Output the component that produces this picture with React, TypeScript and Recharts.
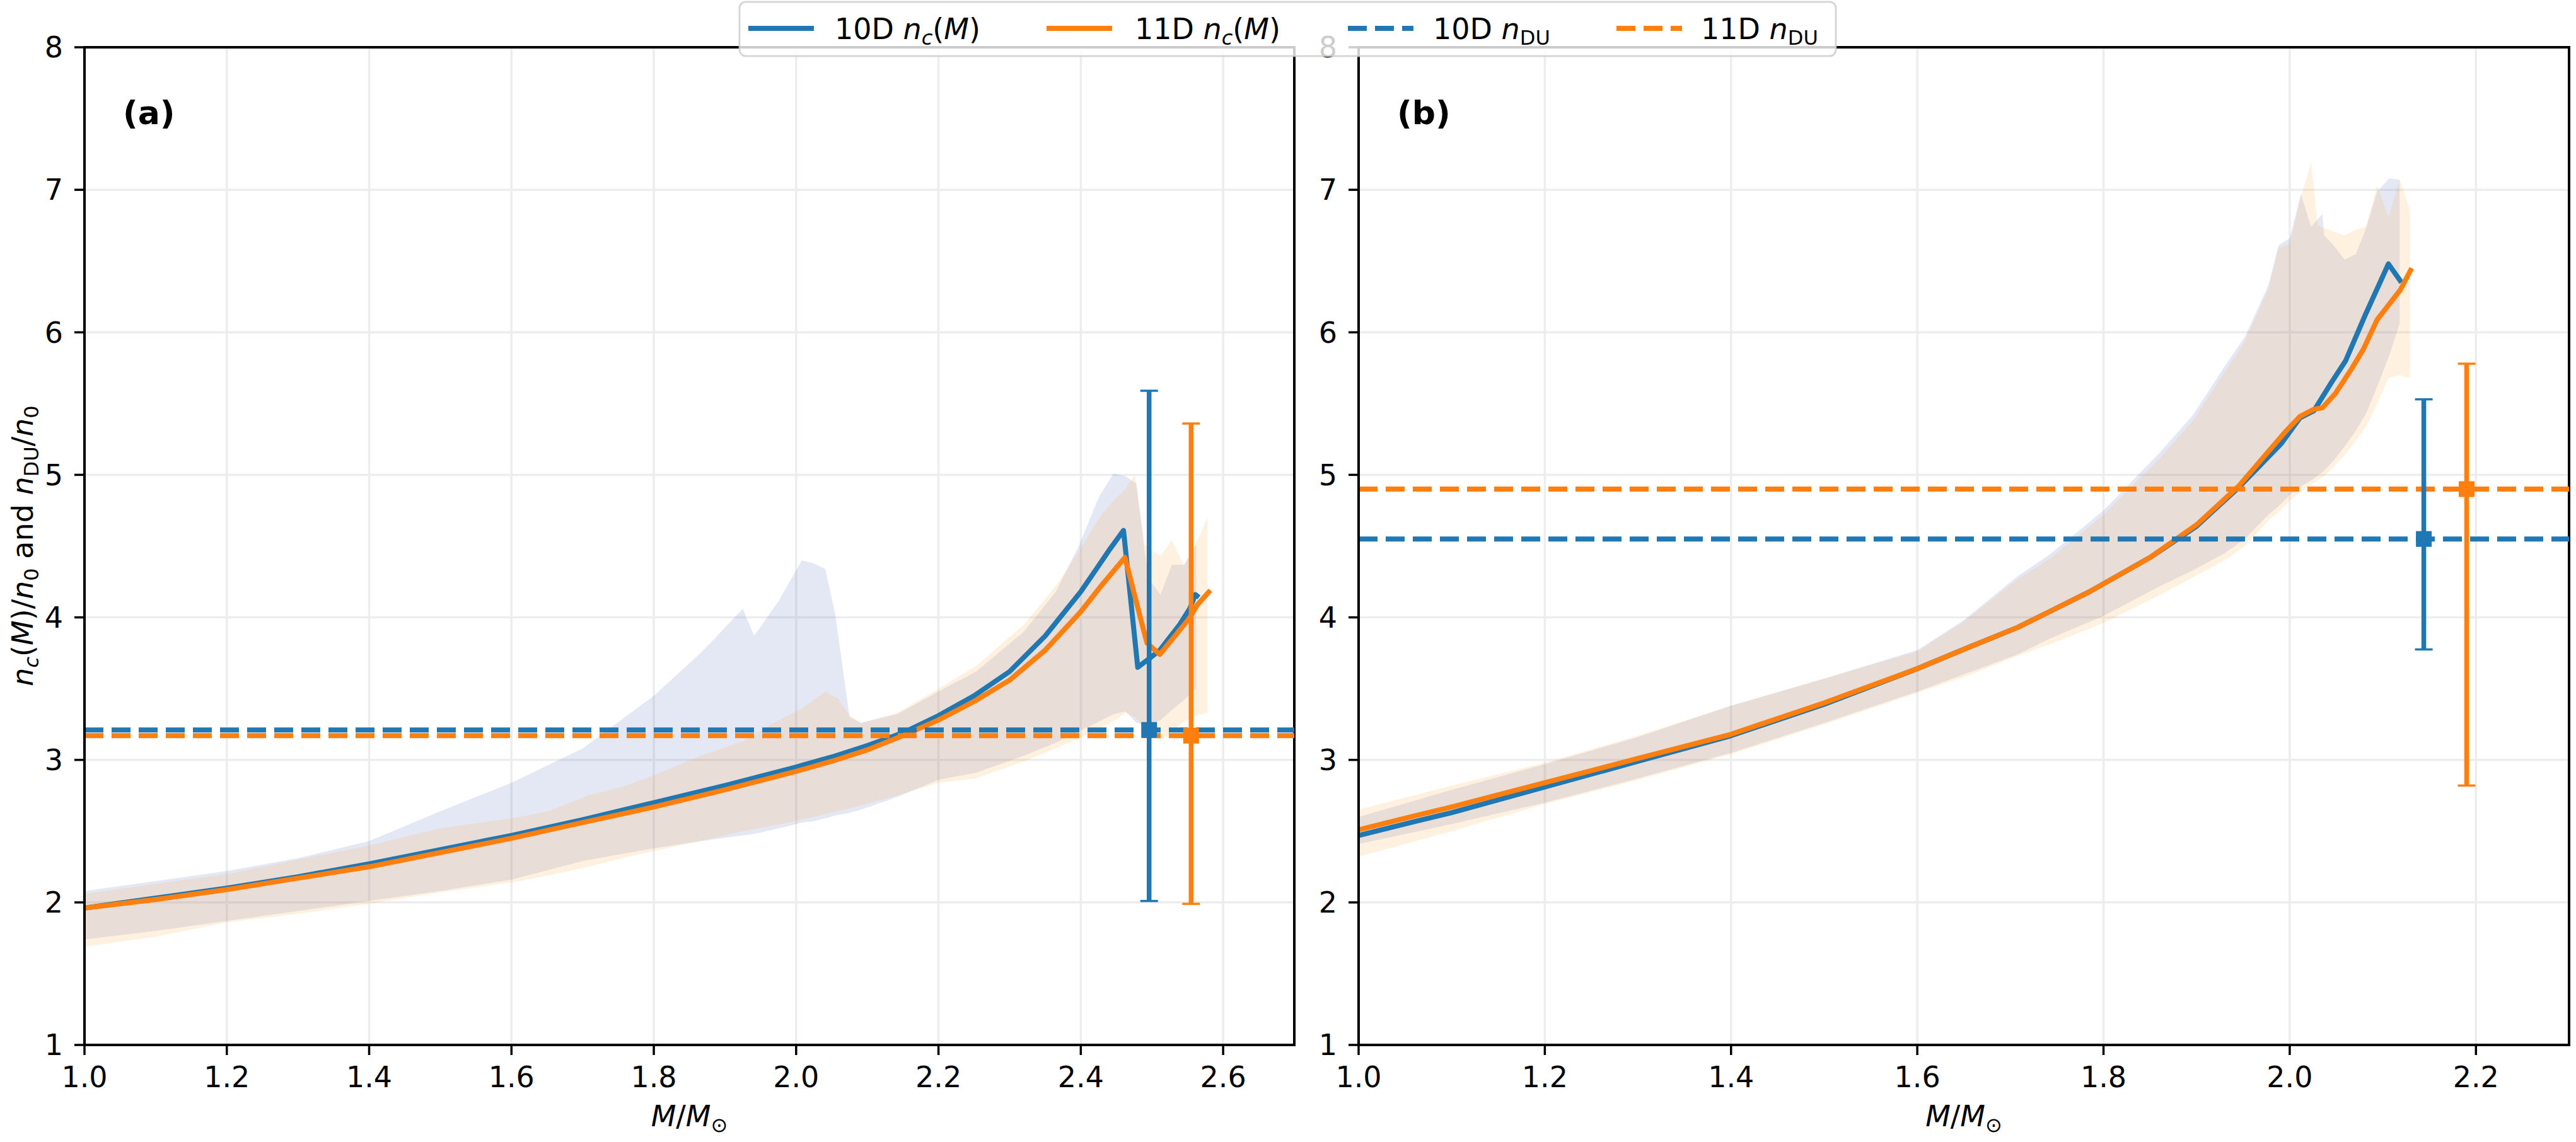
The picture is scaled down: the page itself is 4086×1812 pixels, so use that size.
import React from "react";
import {
  ComposedChart,
  Area,
  Line,
  Scatter,
  ErrorBar,
  XAxis,
  YAxis,
  CartesianGrid,
  ReferenceLine,
  ReferenceArea,
} from "recharts";

const BLUE = "#1f77b4";
const ORANGE = "#ff7f0e";
const BLUE_BAND = "#3e5bb8";
const ORANGE_BAND = "#ffa032";
const FONT = "DejaVu Sans";
const FS = 46;
const LW = 8;
const DASH = "30 13";

const Y_TICKS = [1, 2, 3, 4, 5, 6, 7, 8];
const A_X_TICKS = [1.0, 1.2, 1.4, 1.6, 1.8, 2.0, 2.2, 2.4, 2.6];
const B_X_TICKS = [1.0, 1.2, 1.4, 1.6, 1.8, 2.0, 2.2];

// panel (a): central n_c(M) curves
const A_10D_M = [1.0, 1.1, 1.2, 1.3, 1.4, 1.5, 1.6, 1.7, 1.8, 1.9, 2.0, 2.05, 2.1, 2.15, 2.2, 2.25, 2.3, 2.35, 2.4, 2.426, 2.441, 2.46, 2.48, 2.496, 2.511, 2.539, 2.553, 2.561, 2.566];
const A_10D_NC = [1.96, 2.03, 2.1, 2.18, 2.27, 2.37, 2.47, 2.58, 2.7, 2.82, 2.95, 3.02, 3.1, 3.19, 3.31, 3.45, 3.62, 3.87, 4.18, 4.37, 4.48, 4.61, 3.65, 3.71, 3.77, 3.95, 4.06, 4.16, 4.14];
const A_11D_M = [1.0, 1.1, 1.2, 1.3, 1.4, 1.5, 1.6, 1.7, 1.8, 1.9, 2.0, 2.05, 2.1, 2.15, 2.2, 2.25, 2.3, 2.35, 2.4, 2.43, 2.462, 2.481, 2.493, 2.511, 2.552, 2.564, 2.582];
const A_11D_NC = [1.96, 2.02, 2.09, 2.17, 2.25, 2.35, 2.45, 2.56, 2.67, 2.79, 2.92, 2.99, 3.07, 3.17, 3.28, 3.41, 3.56, 3.77, 4.04, 4.23, 4.42, 4.05, 3.82, 3.74, 3.99, 4.09, 4.19];

// panel (a): uncertainty bands
const A_10D_BAND_M = [1.0, 1.1, 1.2, 1.3, 1.4, 1.5, 1.6, 1.7, 1.8, 1.866, 1.925, 1.941, 1.976, 2.008, 2.024, 2.041, 2.055, 2.075, 2.091, 2.142, 2.2, 2.253, 2.32, 2.365, 2.397, 2.426, 2.446, 2.463, 2.478, 2.49, 2.497, 2.512, 2.528, 2.545, 2.562];
const A_10D_BAND_LO = [1.74, 1.8, 1.87, 1.94, 2.01, 2.08, 2.16, 2.29, 2.38, 2.43, 2.47, 2.48, 2.52, 2.56, 2.57, 2.59, 2.61, 2.63, 2.65, 2.74, 2.86, 2.91, 3.03, 3.12, 3.2, 3.27, 3.32, 3.34, 3.26, 3.25, 3.25, 3.28, 3.35, 3.42, 3.5];
const A_10D_BAND_HI = [2.08, 2.15, 2.22, 2.31, 2.43, 2.64, 2.84, 3.08, 3.45, 3.75, 4.06, 3.87, 4.12, 4.4, 4.38, 4.34, 4.02, 3.3, 3.26, 3.32, 3.48, 3.62, 3.9, 4.18, 4.5, 4.85, 5.01, 4.99, 4.94, 4.45, 4.26, 4.16, 4.37, 4.37, 4.51];
const A_11D_BAND_M = [1.0, 1.1, 1.2, 1.3, 1.4, 1.5, 1.6, 1.652, 1.708, 1.755, 1.8, 1.866, 1.925, 1.968, 2.008, 2.041, 2.059, 2.075, 2.091, 2.142, 2.2, 2.253, 2.32, 2.365, 2.397, 2.426, 2.446, 2.463, 2.476, 2.49, 2.512, 2.528, 2.545, 2.562, 2.578];
const A_11D_BAND_LO = [1.69, 1.76, 1.86, 1.92, 1.99, 2.07, 2.14, 2.19, 2.25, 2.31, 2.36, 2.43, 2.5, 2.54, 2.58, 2.62, 2.64, 2.66, 2.68, 2.75, 2.84, 2.87, 2.99, 3.08, 3.15, 3.22, 3.27, 3.33, 3.3, 3.23, 3.13, 3.2, 3.27, 3.31, 3.33];
const A_11D_BAND_HI = [2.06, 2.13, 2.2, 2.3, 2.4, 2.52, 2.59, 2.64, 2.75, 2.81, 2.89, 3.03, 3.13, 3.26, 3.36, 3.48, 3.43, 3.31, 3.26, 3.33, 3.5, 3.66, 3.95, 4.22, 4.46, 4.7, 4.82, 4.9, 5.0, 4.51, 4.43, 4.54, 4.36, 4.52, 4.7];

// panel (a): n_DU with error bars (10D, 11D)
const A_NDU = [3.21, 3.17];
const A_NDU_M = [2.496, 2.555];
const A_NDU_LO = [2.01, 1.99];
const A_NDU_HI = [5.59, 5.36];

// panel (b): central curves
const B_10D_M = [1.0, 1.062, 1.1, 1.2, 1.3, 1.4, 1.5, 1.6, 1.659, 1.708, 1.742, 1.785, 1.85, 1.9, 1.945, 1.991, 2.011, 2.026, 2.045, 2.06, 2.081, 2.106, 2.12];
const B_10D_NC = [2.47, 2.57, 2.63, 2.81, 2.99, 3.17, 3.39, 3.64, 3.8, 3.93, 4.04, 4.18, 4.42, 4.64, 4.91, 5.22, 5.4, 5.45, 5.65, 5.8, 6.12, 6.48, 6.35];
const B_11D_M = [1.0, 1.062, 1.1, 1.2, 1.3, 1.4, 1.5, 1.6, 1.659, 1.708, 1.742, 1.785, 1.85, 1.9, 1.945, 1.995, 2.011, 2.026, 2.035, 2.049, 2.067, 2.079, 2.094, 2.106, 2.119, 2.131];
const B_11D_NC = [2.51, 2.61, 2.67, 2.84, 3.01, 3.18, 3.4, 3.64, 3.8, 3.93, 4.04, 4.18, 4.42, 4.65, 4.92, 5.3, 5.41, 5.46, 5.47, 5.57, 5.75, 5.88, 6.09, 6.19, 6.3, 6.45];

// panel (b): bands
const B_10D_BAND_M = [1.0, 1.1, 1.2, 1.3, 1.4, 1.5, 1.6, 1.65, 1.708, 1.742, 1.8, 1.861, 1.896, 1.93, 1.952, 1.977, 1.988, 2.0, 2.012, 2.023, 2.035, 2.037, 2.047, 2.059, 2.071, 2.082, 2.094, 2.107, 2.118];
const B_10D_BAND_LO = [2.41, 2.55, 2.7, 2.87, 3.05, 3.26, 3.48, 3.6, 3.74, 3.85, 4.01, 4.22, 4.33, 4.45, 4.55, 4.72, 4.78, 4.86, 4.92, 4.96, 5.02, 5.03, 5.1, 5.2, 5.31, 5.43, 5.62, 5.84, 6.06];
const B_10D_BAND_HI = [2.6, 2.79, 2.97, 3.16, 3.38, 3.57, 3.77, 3.98, 4.29, 4.44, 4.75, 5.16, 5.42, 5.76, 5.97, 6.33, 6.61, 6.66, 6.97, 6.74, 6.83, 6.68, 6.61, 6.51, 6.55, 6.73, 6.99, 7.08, 7.07];
const B_11D_BAND_M = [1.0, 1.1, 1.2, 1.3, 1.4, 1.5, 1.6, 1.65, 1.708, 1.742, 1.8, 1.861, 1.896, 1.93, 1.952, 1.977, 1.988, 2.0, 2.012, 2.023, 2.03, 2.042, 2.059, 2.071, 2.082, 2.094, 2.106, 2.118, 2.129];
const B_11D_BAND_LO = [2.32, 2.5, 2.69, 2.86, 3.04, 3.25, 3.47, 3.58, 3.73, 3.81, 3.96, 4.16, 4.28, 4.4, 4.5, 4.68, 4.74, 4.82, 4.88, 4.93, 4.96, 5.02, 5.14, 5.24, 5.34, 5.5, 5.68, 5.7, 5.68];
const B_11D_BAND_HI = [2.65, 2.82, 2.98, 3.17, 3.38, 3.57, 3.76, 3.97, 4.27, 4.41, 4.72, 5.12, 5.38, 5.72, 5.94, 6.3, 6.59, 6.62, 6.95, 7.19, 6.75, 6.72, 6.68, 6.72, 6.74, 7.03, 6.81, 7.07, 6.86];

// panel (b): n_DU with error bars
const B_NDU = [4.55, 4.9];
const B_NDU_M = [2.144, 2.19];
const B_NDU_LO = [3.775, 2.82];
const B_NDU_HI = [5.53, 5.78];

type Pt = { m: number; v: number };
type Band = { m: number; lo: number; hi: number };
type ErrPt = { m: number; v: number; err: [number, number] };

const zipLine = (m: number[], v: number[]): Pt[] => m.map((x, i) => ({ m: x, v: v[i] }));
const zipBand = (m: number[], lo: number[], hi: number[]): Band[] =>
  m.map((x, i) => ({ m: x, lo: lo[i], hi: hi[i] }));
const errPoint = (m: number[], v: number[], lo: number[], hi: number[], i: number): ErrPt[] => [
  { m: m[i], v: v[i], err: [v[i] - lo[i], hi[i] - v[i]] },
];

const square = (color: string) => (p: any) =>
  <rect x={p.cx - 12.5} y={p.cy - 12.5} width={25} height={25} fill={color} />;

function XLabel(props: any) {
  const vb = props.viewBox || {};
  const cx = vb.x + vb.width / 2;
  const y = vb.y + 129;
  return (
    <text x={cx} y={y} textAnchor="middle" fontFamily={FONT} fontSize={FS} fill="#000">
      <tspan fontStyle="italic">M</tspan>
      <tspan>/</tspan>
      <tspan fontStyle="italic">M</tspan>
      <tspan fontSize={32} dy={9}>{"\u2299"}</tspan>
    </text>
  );
}

function YLabel() {
  const cx = 52;
  const cy = 866;
  const sub = { fontSize: 32 };
  return (
    <text x={cx} y={cy} textAnchor="middle" transform={`rotate(-90, ${cx}, ${cy})`} fontFamily={FONT} fontSize={FS} fill="#000">
      <tspan fontStyle="italic">n</tspan>
      <tspan fontStyle="italic" {...sub} dy={9}>c</tspan>
      <tspan dy={-9}>(</tspan>
      <tspan fontStyle="italic">M</tspan>
      <tspan>)/</tspan>
      <tspan fontStyle="italic">n</tspan>
      <tspan {...sub} dy={9}>0</tspan>
      <tspan dy={-9}> and </tspan>
      <tspan fontStyle="italic">n</tspan>
      <tspan {...sub} dy={9}>DU</tspan>
      <tspan dy={-9}>/</tspan>
      <tspan fontStyle="italic">n</tspan>
      <tspan {...sub} dy={9}>0</tspan>
    </text>
  );
}

function Tag(props: any) {
  const vb = props.viewBox || {};
  return (
    <text x={vb.x + 61} y={vb.y + 122} fontFamily={FONT} fontSize={52} fontWeight="bold" fill="#000">
      {props.tag}
    </text>
  );
}

type PanelProps = {
  left: number;
  width: number;
  yWidth: number;
  mLeft: number;
  mRight: number;
  xMax: number;
  xTicks: number[];
  tag: string;
  withYLabel: boolean;
  band10: Band[];
  band11: Band[];
  line10: Pt[];
  line11: Pt[];
  ndu10: number;
  ndu11: number;
  bar10: ErrPt[];
  bar11: ErrPt[];
};

const tickStyle = { fontSize: FS, fontFamily: FONT, fill: "#000" };

function Panel(p: PanelProps) {
  return (
    <div style={{ position: "absolute", left: p.left, top: 0 }}>
      <ComposedChart
        width={p.width}
        height={1812}
        margin={{ top: 75, right: p.mRight, bottom: 54, left: p.mLeft }}
      >
        <CartesianGrid stroke="#ededed" strokeWidth={3.5} />
        <XAxis
          dataKey="m"
          type="number"
          domain={[1, p.xMax]}
          ticks={p.xTicks}
          interval={0}
          allowDataOverflow
          height={100}
          tickFormatter={(v: number) => v.toFixed(1)}
          tick={tickStyle}
          tickSize={16}
          tickMargin={18}
          tickLine={{ stroke: "#000", strokeWidth: 3.5 }}
          axisLine={{ stroke: "#000", strokeWidth: 4 }}
          label={<XLabel />}
        />
        <YAxis
          type="number"
          domain={[1, 8]}
          ticks={Y_TICKS}
          interval={0}
          allowDataOverflow
          width={p.yWidth}
          tick={tickStyle}
          tickSize={16}
          tickMargin={18}
          tickLine={{ stroke: "#000", strokeWidth: 3.5 }}
          axisLine={{ stroke: "#000", strokeWidth: 4 }}
          label={p.withYLabel ? <YLabel /> : undefined}
        />
        <Area
          data={p.band10}
          dataKey={(d: Band) => [d.lo, d.hi]}
          type="linear"
          stroke="none"
          fill={BLUE_BAND}
          fillOpacity={0.14}
          activeDot={false}
          isAnimationActive={false}
        />
        <Area
          data={p.band11}
          dataKey={(d: Band) => [d.lo, d.hi]}
          type="linear"
          stroke="none"
          fill={ORANGE_BAND}
          fillOpacity={0.15}
          activeDot={false}
          isAnimationActive={false}
        />
        <Line
          data={p.line10}
          dataKey="v"
          type="linear"
          stroke={BLUE}
          strokeWidth={LW}
          strokeLinejoin="round"
          dot={false}
          activeDot={false}
          isAnimationActive={false}
        />
        <Line
          data={p.line11}
          dataKey="v"
          type="linear"
          stroke={ORANGE}
          strokeWidth={LW}
          strokeLinejoin="round"
          dot={false}
          activeDot={false}
          isAnimationActive={false}
        />
        <ReferenceLine y={p.ndu10} stroke={BLUE} strokeWidth={LW} strokeDasharray={DASH} />
        <ReferenceLine y={p.ndu11} stroke={ORANGE} strokeWidth={LW} strokeDasharray={DASH} />
        <Scatter data={p.bar10} dataKey="v" shape={square(BLUE)} isAnimationActive={false}>
          <ErrorBar dataKey="err" direction="y" width={0} stroke={BLUE} strokeWidth={7.5} isAnimationActive={false} />
          <ErrorBar dataKey="err" direction="y" width={14} stroke={BLUE} strokeWidth={3.5} isAnimationActive={false} />
        </Scatter>
        <Scatter data={p.bar11} dataKey="v" shape={square(ORANGE)} isAnimationActive={false}>
          <ErrorBar dataKey="err" direction="y" width={0} stroke={ORANGE} strokeWidth={7.5} isAnimationActive={false} />
          <ErrorBar dataKey="err" direction="y" width={14} stroke={ORANGE} strokeWidth={3.5} isAnimationActive={false} />
        </Scatter>
        <ReferenceArea
          x1={1}
          x2={p.xMax}
          y1={1}
          y2={8}
          fill="none"
          stroke="#000"
          strokeWidth={4}
          ifOverflow="visible"
          label={<Tag tag={p.tag} />}
        />
      </ComposedChart>
    </div>
  );
}

function LegendOverlay() {
  const sub = { fontSize: 32 };
  const items = [
    { x: 1187, tx: 1324, color: BLUE, dash: undefined as string | undefined, label: "10D", nc: true },
    { x: 1660, tx: 1800, color: ORANGE, dash: undefined as string | undefined, label: "11D", nc: true },
    { x: 2138, tx: 2273, color: BLUE, dash: DASH, label: "10D", nc: false },
    { x: 2564, tx: 2698, color: ORANGE, dash: DASH, label: "11D", nc: false },
  ];
  return (
    <svg
      width={4086}
      height={1812}
      style={{ position: "absolute", left: 0, top: 0, pointerEvents: "none" }}
    >
      <rect x={1173} y={3} width={1739} height={86} rx={10} ry={10} fill="#fff" fillOpacity={0.8} stroke="#cccccc" strokeOpacity={0.8} strokeWidth={3} />
      {items.map((it, i) => (
        <g key={i}>
          <line x1={it.x} x2={it.x + 104} y1={45} y2={45} stroke={it.color} strokeWidth={LW} strokeDasharray={it.dash} />
          <text x={it.tx} y={62} fontFamily={FONT} fontSize={FS} fill="#000">
            <tspan>{it.label + " "}</tspan>
            <tspan fontStyle="italic">n</tspan>
            {it.nc ? (
              <>
                <tspan fontStyle="italic" {...sub} dy={9}>c</tspan>
                <tspan dy={-9}>(</tspan>
                <tspan fontStyle="italic">M</tspan>
                <tspan>)</tspan>
              </>
            ) : (
              <tspan {...sub} dy={9}>DU</tspan>
            )}
          </text>
        </g>
      ))}
    </svg>
  );
}

export default function App() {
  return (
    <div style={{ position: "absolute", left: 0, top: 0, width: 4086, height: 1812, background: "#fff", overflow: "hidden" }}>
      <Panel
        left={0}
        width={2080}
        yWidth={100}
        mLeft={34}
        mRight={27}
        xMax={2.7}
        xTicks={A_X_TICKS}
        tag="(a)"
        withYLabel
        band10={zipBand(A_10D_BAND_M, A_10D_BAND_LO, A_10D_BAND_HI)}
        band11={zipBand(A_11D_BAND_M, A_11D_BAND_LO, A_11D_BAND_HI)}
        line10={zipLine(A_10D_M, A_10D_NC)}
        line11={zipLine(A_11D_M, A_11D_NC)}
        ndu10={A_NDU[0]}
        ndu11={A_NDU[1]}
        bar10={errPoint(A_NDU_M, A_NDU, A_NDU_LO, A_NDU_HI, 0)}
        bar11={errPoint(A_NDU_M, A_NDU, A_NDU_LO, A_NDU_HI, 1)}
      />
      <Panel
        left={2070}
        width={2016}
        yWidth={60}
        mLeft={25}
        mRight={11}
        xMax={2.3}
        xTicks={B_X_TICKS}
        tag="(b)"
        withYLabel={false}
        band10={zipBand(B_10D_BAND_M, B_10D_BAND_LO, B_10D_BAND_HI)}
        band11={zipBand(B_11D_BAND_M, B_11D_BAND_LO, B_11D_BAND_HI)}
        line10={zipLine(B_10D_M, B_10D_NC)}
        line11={zipLine(B_11D_M, B_11D_NC)}
        ndu10={B_NDU[0]}
        ndu11={B_NDU[1]}
        bar10={errPoint(B_NDU_M, B_NDU, B_NDU_LO, B_NDU_HI, 0)}
        bar11={errPoint(B_NDU_M, B_NDU, B_NDU_LO, B_NDU_HI, 1)}
      />
      <LegendOverlay />
    </div>
  );
}
